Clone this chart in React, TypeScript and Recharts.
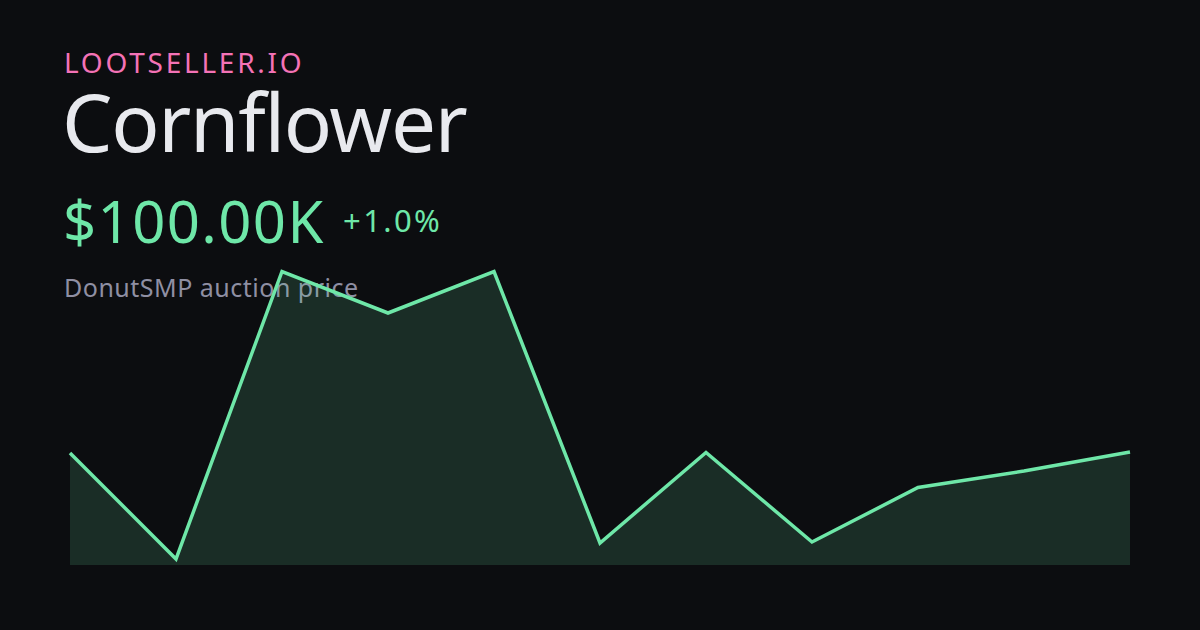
import React from "react";
import { AreaChart, Area, XAxis, YAxis } from "recharts";

const days = ["D1", "D2", "D3", "D4", "D5", "D6", "D7", "D8", "D9", "D10", "D11"];
const prices = [99.9, 89.3, 118.05, 113.9, 118.05, 90.9, 99.95, 91.0, 96.45, 98.1, 100.0];
const data = days.map((d, i) => ({ day: d, price: prices[i] }));

const BG = "#0c0d10";
const GREEN = "#6ee7a8";
const FONT = "'Noto Sans', 'Open Sans', sans-serif";

export default function App() {
  return (
    <div style={{ position: "relative", width: 1200, height: 630, background: BG, overflow: "hidden", fontFamily: FONT }}>
      <style>{`body{margin:0;background:${BG};}`}</style>
      <div style={{ position: "absolute", left: 64, top: 48, fontSize: 28, lineHeight: 1, letterSpacing: 2.75, color: "#f472b6", whiteSpace: "nowrap" }}>
        LOOTSELLER.IO
      </div>
      <div style={{ position: "absolute", left: 62, top: 81, fontSize: 80, lineHeight: 1, letterSpacing: -1.3, color: "#e8e9ee", whiteSpace: "nowrap" }}>
        Cornflower
      </div>
      <div style={{ position: "absolute", left: 63, top: 191.5, fontSize: 58, lineHeight: 1, letterSpacing: 1.4, color: GREEN, whiteSpace: "nowrap" }}>
        $100.00K
      </div>
      <div style={{ position: "absolute", left: 343, top: 205, fontSize: 31, lineHeight: 1, letterSpacing: 2.4, color: GREEN, whiteSpace: "nowrap" }}>
        +1.0%
      </div>
      <div style={{ position: "absolute", left: 64, top: 275, fontSize: 25, lineHeight: 1, letterSpacing: 0.5, color: "#8f8fa3", whiteSpace: "nowrap" }}>
        DonutSMP auction price
      </div>
      <div style={{ position: "absolute", left: 0, top: 0 }}>
        <AreaChart width={1200} height={630} data={data} margin={{ top: 271.5, right: 70, bottom: 65, left: 70 }}>
          <XAxis dataKey="day" hide />
          <YAxis hide domain={[88.7, 118.05]} />
          <Area
            type="linear"
            dataKey="price"
            stroke={GREEN}
            strokeWidth={3.5}
            fill={GREEN}
            fillOpacity={0.15}
            isAnimationActive={false}
            dot={false}
            activeDot={false}
          />
        </AreaChart>
      </div>
    </div>
  );
}
